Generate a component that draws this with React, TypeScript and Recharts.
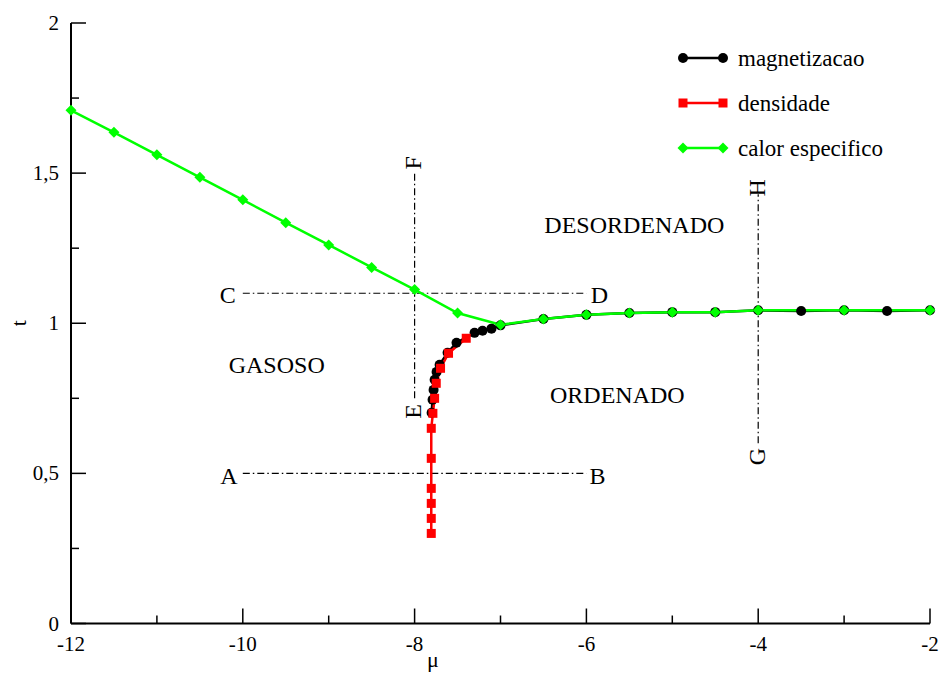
import React from 'react';
import { LineChart, Line, XAxis, YAxis, ReferenceLine, ReferenceDot, Legend, Label } from 'recharts';

const muTicks = [-12, -11, -10, -9, -8, -7, -6, -5, -4, -3, -2];
const tTicks = [0, 0.25, 0.5, 0.75, 1, 1.25, 1.5, 1.75, 2];

const magMu = [-7.802, -7.791, -7.779, -7.767, -7.744, -7.709, -7.616, -7.512, -7.302, -7.209, -7.105, -7.0, -6.5, -6.0, -5.5, -5.0, -4.5, -4.0, -3.5, -3.0, -2.5, -2.0];
const magT = [0.702, 0.745, 0.778, 0.812, 0.838, 0.862, 0.902, 0.935, 0.968, 0.975, 0.982, 0.993, 1.014, 1.028, 1.034, 1.037, 1.037, 1.043, 1.041, 1.043, 1.041, 1.043];

const denMu = [-7.806, -7.806, -7.806, -7.806, -7.806, -7.806, -7.787, -7.767, -7.748, -7.698, -7.605, -7.399];
const denT = [0.3, 0.35, 0.4, 0.45, 0.55, 0.65, 0.7, 0.75, 0.8, 0.85, 0.9, 0.95];

const calMu = [-12, -11.5, -11, -10.5, -10, -9.5, -9, -8.5, -8, -7.5, -7, -6.5, -6, -5.5, -5, -4.5, -4, -3, -2];
const calT = [1.709, 1.636, 1.561, 1.486, 1.411, 1.335, 1.261, 1.186, 1.112, 1.034, 0.995, 1.014, 1.028, 1.034, 1.037, 1.037, 1.043, 1.043, 1.043];

const magData = magMu.map((mu, i) => ({ mu, t: magT[i] }));
const denData = denT.map((t, i) => ({ mu: denMu[i], t }));
const calData = calMu.map((mu, i) => ({ mu, t: calT[i] }));

// Guide segments: [x1, y1, x2, y2]
const guideAB = [-10, 0.5, -6, 0.5];
const guideCD = [-10, 1.1, -6, 1.1];
const guideEF = [-8, 0.75, -8, 1.5];
const guideGH = [-4, 0.6, -4, 1.43];

const letterLabels = [
  { text: 'A', mu: -10.163, t: 0.492, angle: 0 },
  { text: 'B', mu: -5.872, t: 0.492, angle: 0 },
  { text: 'C', mu: -10.174, t: 1.095, angle: 0 },
  { text: 'D', mu: -5.849, t: 1.095, angle: 0 },
  { text: 'E', mu: -8.02, t: 0.706, angle: -90 },
  { text: 'F', mu: -8.02, t: 1.534, angle: -90 },
  { text: 'G', mu: -4.015, t: 0.556, angle: -90 },
  { text: 'H', mu: -4.015, t: 1.451, angle: -90 },
];

const regionLabels = [
  { text: 'DESORDENADO', mu: -5.442, t: 1.328 },
  { text: 'GASOSO', mu: -9.605, t: 0.862 },
  { text: 'ORDENADO', mu: -5.64, t: 0.762 },
];

const seriesNames = ['magnetizacao', 'densidade', 'calor especifico'];

const BLACK = '#000000';
const RED = '#ff0000';
const GREEN = '#00ff00';
const SERIF = "'Liberation Serif', 'Times New Roman', serif";

const fmt = (v: number) => String(v).replace('.', ',');

const circleDot = (p: any) => <circle key={`c${p.index}`} cx={p.cx} cy={p.cy} r={5} fill={BLACK} />;
const squareDot = (p: any) => <rect key={`s${p.index}`} x={p.cx - 4.5} y={p.cy - 4.5} width={9} height={9} fill={RED} />;
const diamondDot = (p: any) => (
  <polygon
    key={`d${p.index}`}
    points={`${p.cx},${p.cy - 5.5} ${p.cx + 5.5},${p.cy} ${p.cx},${p.cy + 5.5} ${p.cx - 5.5},${p.cy}`}
    fill={GREEN}
  />
);

const BottomTick = (props: any) => {
  const { x, y, payload } = props;
  const major = Math.abs(payload.value) % 2 === 0;
  return (
    <g>
      <line x1={x} y1={y} x2={x} y2={y - (major ? 15 : 8)} stroke={BLACK} strokeWidth={1.5} />
      {major && (
        <text className="serif-text" x={x} y={y + 27} textAnchor="middle" fontSize={21} fill={BLACK}>
          {payload.value}
        </text>
      )}
    </g>
  );
};

const TopTick = (props: any) => {
  const { x, y, payload } = props;
  const major = Math.abs(payload.value) % 2 === 0;
  return <line x1={x} y1={y} x2={x} y2={y + (major ? 15 : 8)} stroke={BLACK} strokeWidth={1.5} />;
};

const LeftTick = (props: any) => {
  const { x, y, payload } = props;
  const major = Math.abs(payload.value * 2) % 1 === 0;
  return (
    <g>
      <line x1={x} y1={y} x2={x + (major ? 15 : 8)} y2={y} stroke={BLACK} strokeWidth={1.5} />
      {major && (
        <text className="serif-text" x={x - 12} y={y + 7} textAnchor="end" fontSize={21} fill={BLACK}>
          {fmt(payload.value)}
        </text>
      )}
    </g>
  );
};

const RightTick = (props: any) => {
  const { x, y, payload } = props;
  const major = Math.abs(payload.value * 2) % 1 === 0;
  return <line x1={x} y1={y} x2={x - (major ? 15 : 8)} y2={y} stroke={BLACK} strokeWidth={1.5} />;
};

const LegendBox = () => {
  const rows = [
    { name: seriesNames[0], color: BLACK, kind: 'c' },
    { name: seriesNames[1], color: RED, kind: 's' },
    { name: seriesNames[2], color: GREEN, kind: 'd' },
  ];
  return (
    <svg width={240} height={140} style={{ display: 'block' }}>
      {rows.map((r, i) => {
        const y = 22 + i * 45;
        const ends = [13, 53];
        return (
          <g key={r.name}>
            <line x1={13} y1={y} x2={53} y2={y} stroke={r.color} strokeWidth={2.5} />
            {ends.map((ex) =>
              r.kind === 'c' ? (
                <circle key={ex} cx={ex} cy={y} r={5} fill={r.color} />
              ) : r.kind === 's' ? (
                <rect key={ex} x={ex - 4.5} y={y - 4.5} width={9} height={9} fill={r.color} />
              ) : (
                <polygon key={ex} points={`${ex},${y - 5.5} ${ex + 5.5},${y} ${ex},${y + 5.5} ${ex - 5.5},${y}`} fill={r.color} />
              )
            )}
            <text className="serif-text" x={68} y={y + 8} fontSize={23} fill={BLACK}>
              {r.name}
            </text>
          </g>
        );
      })}
    </svg>
  );
};

const guide = (g: number[], key: string) => (
  <ReferenceLine
    key={key}
    segment={[{ x: g[0], y: g[1] }, { x: g[2], y: g[3] }]}
    stroke={BLACK}
    strokeWidth={1.2}
    strokeDasharray="7 3 1.5 3"
  />
);

export default function App() {
  return (
    <div style={{ position: 'absolute', left: 0, top: 0, background: '#fff' }}>
      <style>{`svg text, .serif-text, .recharts-wrapper, .recharts-wrapper * { font-family: ${SERIF} !important; }`}</style>
      <LineChart width={940} height={675} margin={{ top: 23, right: 10, bottom: 0, left: 0 }}>
        <XAxis
          type="number"
          dataKey="mu"
          domain={[-12, -2]}
          ticks={muTicks}
          interval={0}
          height={51.5}
          tickSize={0}
          tickMargin={0}
          tickLine={false}
          axisLine={{ stroke: BLACK, strokeWidth: 2 }}
          tick={<BottomTick />}
          label={
            <Label
              content={(p: any) => (
                <text className="serif-text" x={p.viewBox.x + 362} y={p.viewBox.y + 43} textAnchor="middle" fontSize={22} fill={BLACK}>
                  μ
                </text>
              )}
            />
          }
        />
        <XAxis
          xAxisId="top"
          orientation="top"
          type="number"
          dataKey="mu"
          domain={[-12, -2]}
          ticks={muTicks}
          interval={0}
          height={0}
          tickSize={0}
          tickMargin={0}
          tickLine={false}
          axisLine={{ stroke: BLACK, strokeWidth: 2 }}
          tick={<TopTick />}
        />
        <YAxis
          type="number"
          domain={[0, 2]}
          ticks={tTicks}
          interval={0}
          width={71}
          tickSize={0}
          tickMargin={0}
          tickLine={false}
          axisLine={{ stroke: BLACK, strokeWidth: 2 }}
          tick={<LeftTick />}
          label={
            <Label
              content={(p: any) => {
                const cx = 18;
                const cy = p.viewBox.y + p.viewBox.height / 2;
                return (
                  <text className="serif-text" x={cx} y={cy} textAnchor="middle" dominantBaseline="central" fontSize={22} fill={BLACK} transform={`rotate(-90 ${cx} ${cy})`}>
                    t
                  </text>
                );
              }}
            />
          }
        />
        <YAxis
          yAxisId="right"
          orientation="right"
          type="number"
          domain={[0, 2]}
          ticks={tTicks}
          interval={0}
          width={0}
          tickSize={0}
          tickMargin={0}
          tickLine={false}
          axisLine={{ stroke: BLACK, strokeWidth: 2 }}
          tick={<RightTick />}
        />

        {guide(guideAB, 'ab')}
        {guide(guideCD, 'cd')}
        {guide(guideEF, 'ef')}
        {guide(guideGH, 'gh')}

        {letterLabels.map((l) => (
          <ReferenceDot
            key={l.text}
            x={l.mu}
            y={l.t}
            r={0}
            fill="none"
            stroke="none"
            label={{ value: l.text, position: 'center', angle: l.angle, fontSize: 24, fill: BLACK }}
          />
        ))}
        {regionLabels.map((l) => (
          <ReferenceDot
            key={l.text}
            x={l.mu}
            y={l.t}
            r={0}
            fill="none"
            stroke="none"
            label={{ value: l.text, position: 'center', fontSize: 24, fill: BLACK }}
          />
        ))}

        <Line
          data={magData}
          dataKey="t"
          name={seriesNames[0]}
          stroke={BLACK}
          strokeWidth={2.5}
          dot={circleDot}
          activeDot={false}
          isAnimationActive={false}
        />
        <Line
          data={denData}
          dataKey="t"
          name={seriesNames[1]}
          stroke={RED}
          strokeWidth={2.5}
          dot={squareDot}
          activeDot={false}
          isAnimationActive={false}
        />
        <Line
          data={calData}
          dataKey="t"
          name={seriesNames[2]}
          stroke={GREEN}
          strokeWidth={2.5}
          dot={diamondDot}
          activeDot={false}
          isAnimationActive={false}
        />
        <Legend
          layout="vertical"
          align="center"
          verticalAlign="middle"
          wrapperStyle={{ left: 670, top: 36, width: 240, height: 140 }}
          content={() => <LegendBox />}
        />
      </LineChart>
    </div>
  );
}
